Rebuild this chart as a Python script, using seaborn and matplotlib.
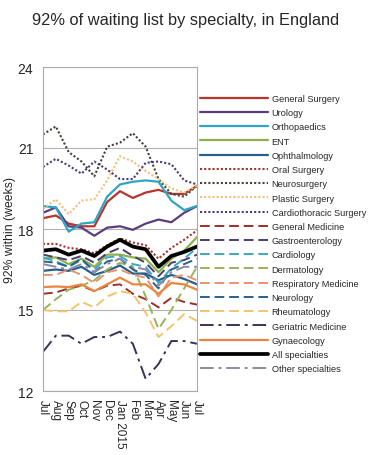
import matplotlib
matplotlib.use("Agg")
import matplotlib.pyplot as plt
import seaborn as sns

# month labels, Jul 2014 .. Jul 2015
months = ["Jul", "Aug", "Sep", "Oct", "Nov", "Dec", "Jan 2015",
          "Feb", "Mar", "Apr", "May", "Jun", "Jul"]

# 92nd percentile wait (weeks)
general_surgery = [18.4, 18.5, 18.2, 18.1, 18.1, 19.0, 19.4, 19.15, 19.35, 19.45, 19.3, 19.3, 19.6]
urology = [18.6, 18.8, 18.1, 18.05, 17.75, 18.05, 18.1, 17.97, 18.2, 18.35, 18.25, 18.6, 18.85]
orthopaedics = [18.85, 18.8, 17.9, 18.2, 18.25, 19.2, 19.65, 19.75, 19.8, 19.75, 19.05, 18.7, 18.85]
ent = [16.9, 16.95, 16.7, 16.9, 16.6, 17.05, 17.05, 16.95, 16.9, 16.4, 16.9, 17.2, 17.7]
ophthalmology = [16.45, 16.5, 16.45, 16.6, 16.3, 16.45, 16.65, 16.35, 16.35, 16.1, 16.3, 16.15, 15.95]
oral_surgery = [17.45, 17.45, 17.3, 17.25, 17.1, 17.4, 17.65, 17.5, 17.4, 16.9, 17.3, 17.6, 17.95]
neurosurgery = [21.5, 21.8, 20.85, 20.5, 19.95, 21.05, 21.2, 21.55, 21.05, 19.85, 19.3, 19.2, 19.6]
plastic_surgery = [18.75, 19.1, 18.55, 19.05, 19.1, 19.8, 20.7, 20.5, 20.15, 19.85, 19.5, 19.35, 19.6]
cardiothoracic = [20.3, 20.6, 20.35, 20.05, 20.5, 20.2, 19.85, 19.85, 20.45, 20.5, 20.4, 19.8, 19.65]
general_medicine = [15.6, 15.65, 15.8, 15.9, 15.7, 15.9, 15.95, 15.6, 15.4, 15.1, 15.45, 15.3, 15.2]
gastroenterology = [17.05, 16.95, 16.85, 17.0, 16.75, 17.1, 17.3, 17.0, 16.75, 16.25, 16.75, 16.85, 17.05]
cardiology = [16.95, 16.8, 16.6, 16.85, 16.5, 16.95, 17.0, 16.7, 16.6, 16.0, 16.55, 16.9, 17.3]
dermatology = [15.0, 15.4, 15.75, 15.9, 16.1, 16.5, 16.75, 16.6, 15.5, 14.3, 15.0, 15.8, 16.6]
respiratory = [16.3, 16.3, 16.5, 16.3, 16.0, 16.4, 16.5, 16.3, 16.2, 15.5, 16.2, 16.3, 16.1]
neurology = [16.8, 16.75, 16.6, 16.9, 16.4, 16.8, 16.9, 16.5, 16.3, 15.8, 16.5, 16.7, 16.9]
rheumatology = [15.0, 14.95, 14.95, 15.3, 15.1, 15.5, 15.7, 15.6, 14.9, 14.0, 14.4, 14.85, 14.6]
geriatric = [13.45, 14.05, 14.05, 13.75, 14.0, 14.0, 14.2, 13.75, 12.45, 13.0, 13.85, 13.85, 13.75]
gynaecology = [15.85, 15.87, 15.85, 15.95, 15.7, 15.95, 16.2, 15.95, 15.95, 15.6, 16.0, 15.95, 15.75]
all_specialties = [17.2, 17.25, 17.05, 17.2, 17.0, 17.35, 17.6, 17.35, 17.25, 16.6, 17.0, 17.15, 17.35]
other_specialties = [16.7, 16.6, 16.5, 16.7, 16.4, 16.7, 16.9, 16.6, 16.5, 15.9, 16.4, 16.6, 16.6]

# (label, values, colour, linestyle, width)
solid = "-"
dot = (0, (1, 1))
dash = (0, (5, 2.5))
dashdot = (0, (7, 2.5, 1.5, 2.5))
series = [
    ("General Surgery", general_surgery, "#b8352d", solid, 1.6),
    ("Urology", urology, "#5b3d7c", solid, 1.6),
    ("Orthopaedics", orthopaedics, "#2ea5c4", solid, 1.6),
    ("ENT", ent, "#8db24d", solid, 1.6),
    ("Ophthalmology", ophthalmology, "#2a5e8c", solid, 1.6),
    ("Oral Surgery", oral_surgery, "#a3342c", dot, 1.5),
    ("Neurosurgery", neurosurgery, "#3e463a", dot, 1.5),
    ("Plastic Surgery", plastic_surgery, "#f4bf78", dot, 1.5),
    ("Cardiothoracic Surgery", cardiothoracic, "#4b3b7a", dot, 1.5),
    ("General Medicine", general_medicine, "#9c2f27", dash, 1.4),
    ("Gastroenterology", gastroenterology, "#4c3c6f", dash, 1.4),
    ("Cardiology", cardiology, "#3ba8c2", dash, 1.4),
    ("Dermatology", dermatology, "#95b45c", dash, 1.4),
    ("Respiratory Medicine", respiratory, "#e89272", dash, 1.4),
    ("Neurology", neurology, "#2b6088", dash, 1.4),
    ("Rheumatology", rheumatology, "#f2c46c", dash, 1.4),
    ("Geriatric Medicine", geriatric, "#3b3157", dashdot, 1.4),
    ("Gynaecology", gynaecology, "#e8863f", solid, 1.6),
    ("All specialties", all_specialties, "#000000", solid, 2.7),
    ("Other specialties", other_specialties, "#8c89a8", dashdot, 1.4),
]

sns.set_style("white")
plt.rcParams["font.family"] = ["Liberation Sans", "DejaVu Sans"]

fig = plt.figure(figsize=(3.72, 4.56), dpi=100)
ax = fig.add_axes([43 / 372, 1 - 392 / 456, 154 / 372, 324 / 456])

x = list(range(len(months)))
for label, vals, color, ls, lw in series:
    sns.lineplot(x=x, y=vals, ax=ax, color=color, linestyle=ls,
                 linewidth=lw, label=label)

ax.set_xlim(0, len(months) - 1)
ax.set_ylim(12, 24)
ax.set_yticks([12, 15, 18, 21, 24])
ax.set_xticks(x)
ax.set_xticklabels(months, rotation=270, fontsize=8.5)
ax.tick_params(axis="y", labelsize=10, length=4, color="#999999", pad=3)
ax.tick_params(axis="x", length=4, color="#999999", pad=2)
ax.yaxis.grid(True, color="#b3b3b3", linewidth=0.8)
ax.set_axisbelow(True)
for s in ax.spines.values():
    s.set_color("#aaaaaa")
    s.set_linewidth(0.8)

ax.set_ylabel("92% within (weeks)", fontsize=8.8, labelpad=1)
ax.set_xlabel("")
fig.suptitle("92% of waiting list by specialty, in England",
             fontsize=11.8, y=1 - 21 / 456, va="center")

ax.legend(loc="upper left", bbox_to_anchor=(200 / 372, 1 - 95 / 456),
          bbox_transform=fig.transFigure, frameon=False, fontsize=6.6,
          handlelength=7.4, handletextpad=0.4, labelspacing=0.57,
          borderpad=0, borderaxespad=0)

fig.savefig("out.png", dpi=100)
